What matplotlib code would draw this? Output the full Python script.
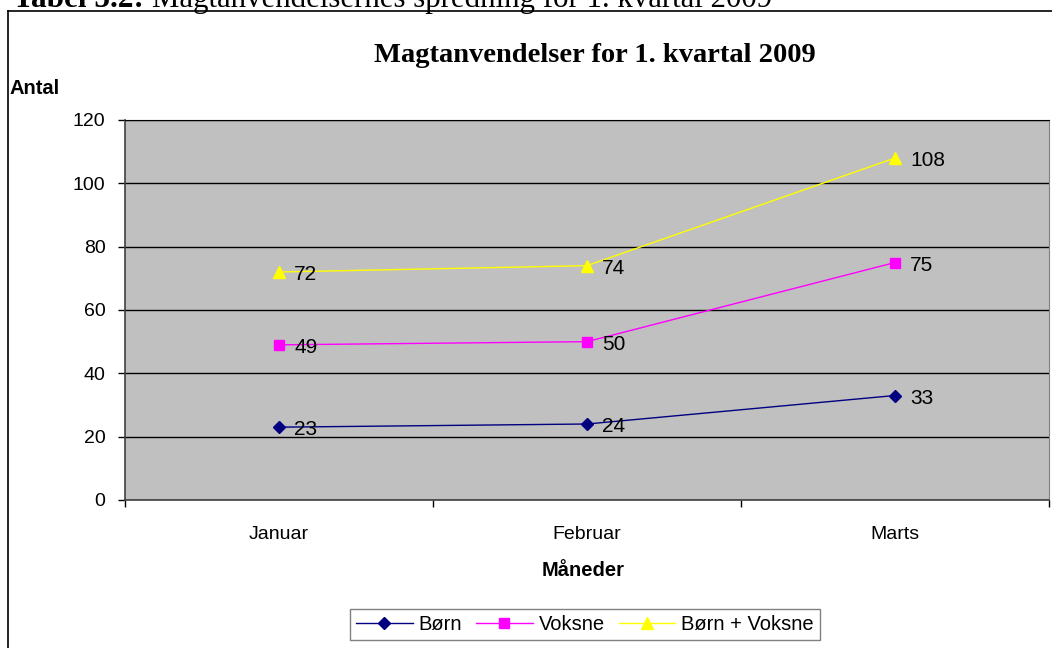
import numpy as np
import matplotlib
matplotlib.use("Agg")
import matplotlib.pyplot as plt
from matplotlib.lines import Line2D

# data
months = ["Januar", "Februar", "Marts"]
born = [23, 24, 33]
voksne = [49, 50, 75]
born_voksne = [72, 74, 108]
series_names = ["Børn", "Voksne", "Børn + Voksne"]
y_ticks = [0, 20, 40, 60, 80, 100, 120]

colors = ["#000080", "#FF00FF", "#FFFF00"]
markers = ["D", "s", "^"]
msizes = [6, 7, 8]


def main():
    plt.rcParams['font.family'] = ['Liberation Sans', 'DejaVu Sans']
    fig = plt.figure(figsize=(10.52, 6.48), dpi=100)
    W, H = 1052.0, 648.0

    # caption above the (cut off) chart box
    fig.text(13 / W, 1 - 7 / H, "Tabel 5.2:", family='Liberation Serif', fontweight='bold',
             fontsize=22.5, va='baseline', ha='left')
    fig.text(152 / W, 1 - 7 / H, "Magtanvendelsernes spredning for 1. kvartal 2009",
             family='Liberation Serif', fontsize=22.2, va='baseline', ha='left')

    # chart frame
    fig.add_artist(Line2D([8 / W, 8 / W], [0, 1 - 11 / H], color='black', lw=1.2))
    fig.add_artist(Line2D([8 / W, 1], [1 - 11 / H, 1 - 11 / H], color='black', lw=1.2))

    ax = fig.add_axes([125 / W, 1 - 500 / H, 924 / W, 380 / H])
    ax.set_facecolor("#C0C0C0")
    x = np.arange(len(months))
    data = [born, voksne, born_voksne]
    for vals, name, c, m, ms in zip(data, series_names, colors, markers, msizes):
        ax.plot(x, vals, color=c, marker=m, markersize=ms, lw=1, label=name, zorder=3)
        for xi, v in zip(x, vals):
            ax.annotate(str(v), (xi, v), xytext=(11, -2), textcoords='offset points',
                        va='center', ha='left', fontsize=15, zorder=4)

    ax.set_xlim(-0.5, 2.5)
    ax.set_ylim(0, 120)
    ax.set_yticks(y_ticks)
    ax.yaxis.grid(True, color='black', lw=1)
    ax.set_axisbelow(True)
    ax.tick_params(axis='y', direction='out', length=5, width=1, pad=9, labelsize=14)
    ax.set_xticks([-0.5, 0.5, 1.5, 2.5])
    ax.set_xticklabels([])
    ax.set_xticks(x, minor=True)
    ax.set_xticklabels(months, minor=True)
    ax.tick_params(axis='x', which='major', direction='out', length=5, width=1)
    ax.tick_params(axis='x', which='minor', length=0, pad=19, labelsize=14)
    for s in ['left', 'bottom']:
        ax.spines[s].set_color('#404040')
        ax.spines[s].set_linewidth(1.2)
    ax.spines['right'].set_color('#808080')
    ax.spines['top'].set_color('black')

    fig.text(10 / W, 1 - 88 / H, "Antal", fontweight='bold', fontsize=14.5, va='center', ha='left')
    fig.text(595 / W, 1 - 55 / H, "Magtanvendelser for 1. kvartal 2009", family='Liberation Serif',
             fontweight='bold', fontsize=20.5, va='center', ha='center')
    fig.text(583 / W, 1 - 571 / H, "Måneder", fontweight='bold', fontsize=14.5, va='center', ha='center')

    leg = fig.legend(loc='upper center', bbox_to_anchor=(585 / W, 1 - 609 / H), ncol=3,
                     fontsize=14.5, frameon=True, fancybox=False, edgecolor='#606060',
                     handlelength=2.8, handletextpad=0.3, columnspacing=0.7,
                     borderpad=0.3, borderaxespad=0)
    leg.get_frame().set_linewidth(1)

    fig.savefig("out.png", dpi=100)


if __name__ == "__main__":
    main()
